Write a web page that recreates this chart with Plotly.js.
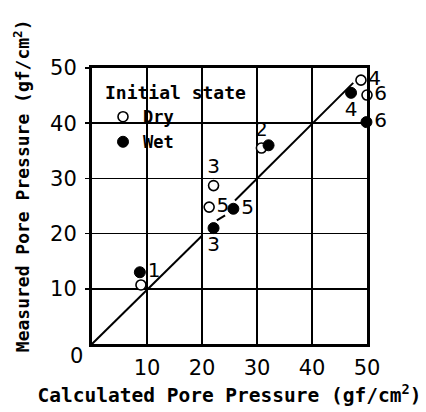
<!DOCTYPE html>
<html>
<head>
<meta charset="utf-8">
<script src="https://cdn.plot.ly/plotly-3.0.1.min.js"></script>
<style>html,body{margin:0;padding:0;background:#fff;}#chart{width:426px;height:412px;}</style>
</head>
<body>
<div id="chart"></div>
<script>
// Dry (open circles)
const calcDry  = [8.9, 30.8, 22.1, 48.9, 21.3, 50.0];
const measDry  = [10.7, 35.5, 28.7, 47.8, 24.8, 45.1];
const labelDry = ["", "2", "3", "4", "5", "6"];
// Wet (filled circles)
const calcWet  = [8.7, 32.1, 22.1, 47.1, 25.7, 49.9];
const measWet  = [13.0, 36.0, 21.0, 45.5, 24.5, 40.2];
const labelWet = ["1", "", "3", "4", "5", "6"];
// 1:1 reference line (drawn with small breaks near the labels)
const lineX = [0, 20, null, 22.7, 24.2, null, 26, 47.5];
const lineY = [0, 19.6, null, 22.4, 23.3, null, 26, 47.3];
const tickVals = [10, 20, 30, 40, 50];
const tickText = ["10", "20", "30", "40", "50"];

const posDry = ["middle right","top center","top center","middle right","middle right","middle right"];
const posWet = ["middle right","top center","bottom center","bottom center","middle right","middle right"];

const mono = {family: "DejaVu Sans Mono", color: "#000", weight: "bold"};
const numFont = {family: "DejaVu Sans", size: 20, color: "#000"};

const traces = [
  {x: lineX, y: lineY, mode: "lines", line: {color: "#000", width: 2}, showlegend: false, hoverinfo: "skip"},
  {x: calcDry, y: measDry, mode: "markers+text", name: "Dry", text: labelDry, textposition: posDry,
   textfont: numFont, cliponaxis: false,
   marker: {symbol: "circle", size: 10, color: "#fff", line: {color: "#000", width: 1.6}}},
  {x: calcWet, y: measWet, mode: "markers+text", name: "Wet", text: labelWet, textposition: posWet,
   textfont: numFont, cliponaxis: false,
   marker: {symbol: "circle", size: 11, color: "#000", line: {color: "#000", width: 1}}}
];

const axisCommon = {
  range: [0, 50], tickvals: tickVals, ticktext: tickText,
  showgrid: true, gridcolor: "#000", gridwidth: 1.5,
  zeroline: false, showline: true, linecolor: "#000", linewidth: 3, mirror: true,
  tickfont: {family: "DejaVu Sans", size: 21, color: "#000"}, fixedrange: true
};

const layout = {
  width: 426, height: 412,
  margin: {l: 92, r: 59, t: 68, b: 68},
  paper_bgcolor: "#fff", plot_bgcolor: "#fff",
  showlegend: true,
  legend: {
    x: 0.04, y: 0.972, xanchor: "left", yanchor: "top",
    bgcolor: "rgba(0,0,0,0)", borderwidth: 0,
    title: {text: "Initial state", font: Object.assign({size: 18}, mono)},
    font: Object.assign({size: 17}, mono),
    tracegroupgap: 0
  },
  xaxis: Object.assign({}, axisCommon, {
    ticks: "", ticklabelstandoff: 3,
    title: {text: "Calculated Pore Pressure (gf/cm<sup>2</sup>)", font: Object.assign({size: 19.5}, mono), standoff: 10}
  }),
  yaxis: Object.assign({}, axisCommon, {
    ticks: "outside", ticklen: 4, tickwidth: 1.5, tickcolor: "#000", ticklabelstandoff: 4
  }),
  shapes: [
    {type: "rect", xref: "paper", yref: "paper", x0: 0.006, x1: 0.6, y0: 0.806, y1: 0.994,
     fillcolor: "#fff", line: {width: 0}, layer: "between"},
    {type: "rect", xref: "paper", yref: "paper", x0: 0.006, x1: 0.455, y0: 0.622, y1: 0.81,
     fillcolor: "#fff", line: {width: 0}, layer: "between"}
  ],
  annotations: [
    {text: "0", xref: "paper", yref: "paper", x: -0.055, y: -0.045, showarrow: false,
     xanchor: "center", yanchor: "middle", font: {family: "DejaVu Sans", size: 21, color: "#000"}},
    {text: "Measured Pore Pressure (gf/cm<sup>2</sup>)", xref: "paper", yref: "paper",
     x: -0.255, y: 0.575, textangle: -90, showarrow: false, xanchor: "center", yanchor: "middle",
     font: Object.assign({size: 18}, mono)}
  ]
};

Plotly.newPlot("chart", traces, layout, {displayModeBar: false, staticPlot: true});
</script>
</body>
</html>
